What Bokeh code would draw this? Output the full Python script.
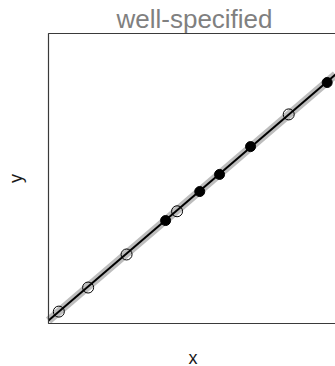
import numpy as np
from bokeh.plotting import figure
from bokeh.models import BoxAnnotation, Label, Range1d
from bokeh.embed import file_html
from bokeh.resources import INLINE

# data
x_open = [0.036, 0.138, 0.272, 0.448, 0.837]
y_open = [0.041, 0.124, 0.238, 0.387, 0.721]
x_filled = [0.408, 0.527, 0.596, 0.704, 0.971]
y_filled = [0.355, 0.455, 0.514, 0.610, 0.831]
fit_x = [0.0, 1.0]
fit_y = [0.0105, 0.8585]

title_text = "well-specified"
xlabel = "x"
ylabel = "y"

FONT = "Liberation Sans"

# layout (pixels): panel box inside a 335 x 366 canvas
W, H = 335, 366
PL, PT, PR, PB = 48, 33, 335, 323
sx = PR - PL          # pixels per x unit
sy = PB - PT          # pixels per y unit


def dx(px):
    return (px - PL) / sx


def dy(py):
    return (PB - py) / sy


p = figure(width=W, height=H, x_range=Range1d(dx(0), dx(W)),
           y_range=Range1d(dy(H), dy(0)),
           output_backend="svg", toolbar_location=None,
           x_axis_type=None, y_axis_type=None,
           min_border=0, min_border_left=0, min_border_right=0,
           min_border_top=0, min_border_bottom=0)
p.title.visible = False
p.grid.visible = False
p.outline_line_color = None
p.background_fill_color = "white"
p.border_fill_color = "white"

# panel box (left, top, bottom sides visible; right side runs off the page)
p.add_layout(BoxAnnotation(left=0, right=dx(W + 6), bottom=0, top=1,
                           fill_alpha=0, line_alpha=1.0,
                           line_color="#3a3a3a", line_width=1.2))

p.line(fit_x, fit_y, line_color="#bdbdbd", line_width=8)
p.line(fit_x, fit_y, line_color="black", line_width=2)

p.scatter(x_open, y_open, marker="circle", size=11, fill_color=None,
          line_color="black", line_width=1)
p.scatter(x_filled, y_filled, marker="circle", size=10, fill_color="black",
          line_color="black", line_width=1)

p.add_layout(Label(x=dx(194), y=dy(3), text=title_text, text_align="center",
                   text_baseline="top", text_font=FONT,
                   text_font_size="26px", text_color="#808080"))
p.add_layout(Label(x=dx(192.5), y=dy(347), text=xlabel, text_align="center",
                   text_baseline="top", text_font=FONT,
                   text_font_size="18px", text_color="#1a1a1a"))
p.add_layout(Label(x=dx(15.5), y=dy(178), text=ylabel, text_align="center",
                   text_baseline="middle", angle=np.pi / 2, text_font=FONT,
                   text_font_size="18px", text_color="#1a1a1a"))

open("out.html", "w").write(file_html(p, INLINE))
